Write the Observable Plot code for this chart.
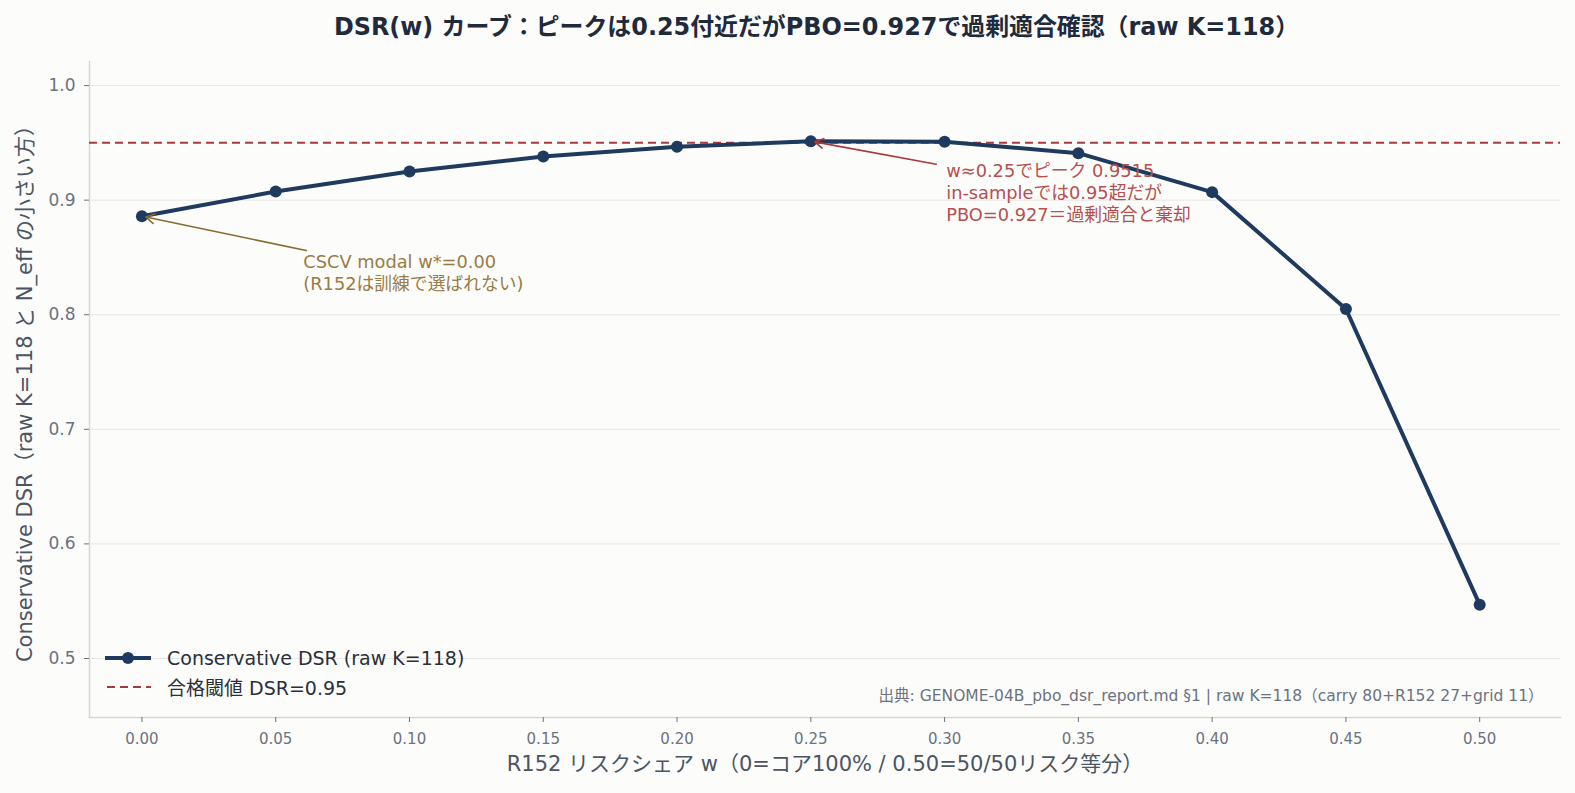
<!DOCTYPE html>
<html>
<head>
<meta charset="utf-8">
<script src="https://cdn.jsdelivr.net/npm/d3@7"></script>
<script src="https://cdn.jsdelivr.net/npm/@observablehq/plot@0.6"></script>
<style>
  html, body { margin: 0; padding: 0; background: #fcfcfa; }
  body { width: 1575px; height: 793px; overflow: hidden; font-family: "DejaVu Sans", "Noto Sans CJK JP", sans-serif; }
  #title { height: 56px; line-height: 55px; text-align: center; font-size: 23.9px; font-weight: 700; color: #1f2a3c; padding-left: 58px; box-sizing: border-box; white-space: nowrap; }
  #wrap { position: relative; }
  #legend { position: absolute; left: 105px; top: 587px; font-size: 19px; color: #2b2f38; }
  .item { display: flex; align-items: center; height: 29px; }
  .item svg { margin-right: 16px; }
</style>
</head>
<body>
<div id="title">DSR(w) カーブ：ピークは0.25付近だがPBO=0.927で過剰適合確認（raw K=118）</div>
<div id="wrap">
  <div id="chart"></div>
  <div id="legend"></div>
</div>
<script>
// R152 risk share grid and conservative DSR at each grid point
const shares = [0.00, 0.05, 0.10, 0.15, 0.20, 0.25, 0.30, 0.35, 0.40, 0.45, 0.50];
const dsrValues = [0.886, 0.9075, 0.925, 0.938, 0.9465, 0.9515, 0.951, 0.941, 0.907, 0.805, 0.547];
const xTicks = [0.00, 0.05, 0.10, 0.15, 0.20, 0.25, 0.30, 0.35, 0.40, 0.45, 0.50];
const yTicks = [0.5, 0.6, 0.7, 0.8, 0.9, 1.0];
const threshold = 0.95;

// Annotation callouts: the point each refers to, its arrow tail and its text anchor
const noteTexts = [
  "CSCV modal w*=0.00\n(R152は訓練で選ばれない)",
  "w≈0.25でピーク 0.9515\nin-sampleでは0.95超だが\nPBO=0.927＝過剰適合と棄却"
];
const notePointIndex = [0, 5];
const noteTailX = [0.0614, 0.2969];
const noteTailY = [0.856, 0.9314];
const noteTextX = [0.0603, 0.3006];
const noteTextY = [0.8536, 0.934];
const noteColors = ["#9a7b45", "#b5504f"];
const noteArrowColors = ["#8a6a2e", "#a83a3a"];

const caption = "出典: GENOME-04B_pbo_dsr_report.md §1 | raw K=118（carry 80+R152 27+grid 11）";
const xLabel = "R152 リスクシェア w（0=コア100% / 0.50=50/50リスク等分）";
const yLabel = "Conservative DSR（raw K=118 と N_eff の小さい方）";
const seriesLabel = "Conservative DSR (raw K=118)";
const thresholdLabel = "合格閾値 DSR=0.95";

const lineColor = "#1f3a5f";
const thresholdColor = "#a83a3a";
const fontStack = "DejaVu Sans, Noto Sans CJK JP, sans-serif";

const points = shares.map((w, i) => ({w, dsr: dsrValues[i]}));
const notes = noteTexts.map((text, i) => ({
  text,
  tx: noteTailX[i], ty: noteTailY[i],
  lx: noteTextX[i], ly: noteTextY[i],
  px: shares[notePointIndex[i]], py: dsrValues[notePointIndex[i]],
  color: noteColors[i], arrow: noteArrowColors[i]
}));

const chart = Plot.plot({
  width: 1575,
  height: 737,
  marginLeft: 89,
  marginRight: 15,
  marginTop: 5,
  marginBottom: 76,
  style: {background: "transparent", fontFamily: fontStack, fontSize: "15px", color: "#6b7280"},
  x: {domain: [-0.0196, 0.5302], ticks: xTicks, tickFormat: d3.format(".2f"), label: null},
  y: {domain: [0.4485, 1.021], ticks: yTicks, tickFormat: d3.format(".1f"), label: null},
  marks: [
    Plot.gridY(yTicks, {stroke: "#e6e6e4", strokeOpacity: 1, strokeWidth: 1}),
    Plot.frame({anchor: "left", stroke: "#d6d6cf", strokeWidth: 1.5}),
    Plot.frame({anchor: "bottom", stroke: "#d6d6cf", strokeWidth: 1.5}),
    Plot.axisX(xTicks, {tickSize: 5, tickPadding: 11, stroke: "#6b7280", fill: "#6b7280", fontSize: 15, label: null, tickFormat: d3.format(".2f")}),
    Plot.axisY(yTicks, {tickSize: 5, tickPadding: 9, stroke: "#6b7280", fill: "#6b7280", fontSize: 17, label: null, tickFormat: d3.format(".1f")}),
    Plot.ruleY([threshold], {stroke: thresholdColor, strokeWidth: 2, strokeDasharray: "8,5"}),
    Plot.line(points, {x: "w", y: "dsr", stroke: lineColor, strokeWidth: 4}),
    Plot.dot(points, {x: "w", y: "dsr", fill: lineColor, r: 6}),
    Plot.arrow(notes, {x1: "tx", y1: "ty", x2: "px", y2: "py", stroke: "arrow", strokeWidth: 1.6, headLength: 9, insetEnd: 4, bend: false}),
    Plot.text([notes[0]], {x: "lx", y: "ly", text: "text", fill: "color", textAnchor: "start", lineAnchor: "top", fontSize: 17.8, lineHeight: 1.2}),
    Plot.text([notes[1]], {x: "lx", y: "ly", text: "text", fill: "color", textAnchor: "start", lineAnchor: "top", fontSize: 17.8, lineHeight: 1.25}),
    Plot.text([caption], {frameAnchor: "bottom-right", dx: -17, dy: -21, fill: "#6b7280", fontSize: 15.5, textAnchor: "end", lineAnchor: "middle"}),
    Plot.text([xLabel], {frameAnchor: "bottom", dy: 47, fill: "#4b5563", fontSize: 21, lineAnchor: "middle"}),
    Plot.text([yLabel], {frameAnchor: "left", dx: -64, dy: -1, rotate: -90, fill: "#4b5563", fontSize: 21, textAnchor: "middle", lineAnchor: "middle"})
  ]
});
document.getElementById("chart").appendChild(chart);

// Legend entries drawn inside the plot area, lower left
const legend = d3.select("#legend");
const row1 = legend.append("div").attr("class", "item");
const s1 = row1.append("svg").attr("width", 46).attr("height", 14);
s1.append("line").attr("x1", 0).attr("x2", 46).attr("y1", 7).attr("y2", 7).attr("stroke", lineColor).attr("stroke-width", 4);
s1.append("circle").attr("cx", 23).attr("cy", 7).attr("r", 6).attr("fill", lineColor);
row1.append("span").text(seriesLabel);
const row2 = legend.append("div").attr("class", "item");
const s2 = row2.append("svg").attr("width", 46).attr("height", 14);
s2.append("line").attr("x1", 2).attr("x2", 46).attr("y1", 7).attr("y2", 7).attr("stroke", thresholdColor).attr("stroke-width", 2).attr("stroke-dasharray", "8,5");
row2.append("span").text(thresholdLabel);
</script>
</body>
</html>
